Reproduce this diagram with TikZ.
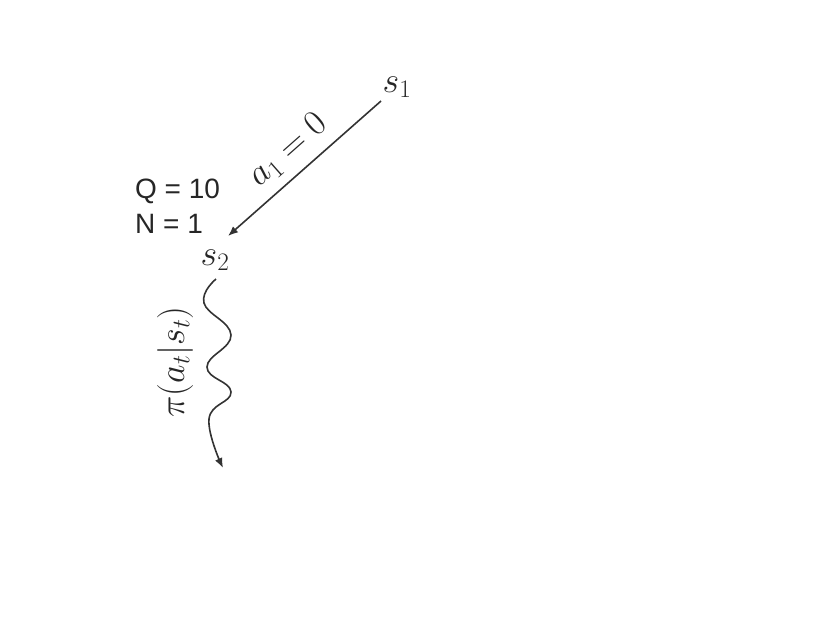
\RequirePackage{fix-cm}
\documentclass[tikz,border=0pt]{standalone}
\usepackage{fontspec}
\newfontfamily\qnfont{Liberation Sans}
\usetikzlibrary{arrows.meta}
\begin{document}
\begin{tikzpicture}[x=1pt,y=-1pt,
  mathlbl/.style={inner sep=0pt,font=\fontsize{36}{42}\selectfont,text=black!85},
  qnlbl/.style={inner sep=0pt,anchor=base west,font=\qnfont\fontsize{28}{33}\selectfont,text=black!85},
  conn/.style={line width=1.6pt,draw=black!80,-{Latex[length=10pt,width=8pt]}}]
\useasboundingbox (0,0) rectangle (814,633);
\node[mathlbl] (s1) at (397,87) {$s_1$};
\node[mathlbl] (s2) at (215,260) {$s_2$};
\coordinate (a1start) at (381,101);
\coordinate (a1end) at (228,236);
\draw[conn] (a1start) -- node[sloped,above=9pt,mathlbl] (alab) {$a_1=0$} (a1end);
\node[qnlbl] (q) at (135,198) {Q = 10};
\node[qnlbl] (n) at (135,233) {N = 1};
\coordinate (sn0) at (216,279);
\coordinate (sn1) at (223,468);
\draw[conn] plot[smooth,tension=0.75] coordinates {(sn0) (204,303) (231,335) (207,367) (231,392) (209,419) (223,468)};
\node[mathlbl,rotate=90] (pi) at (175,362) {$\pi(a_t|s_t)$};
\end{tikzpicture}
\end{document}
